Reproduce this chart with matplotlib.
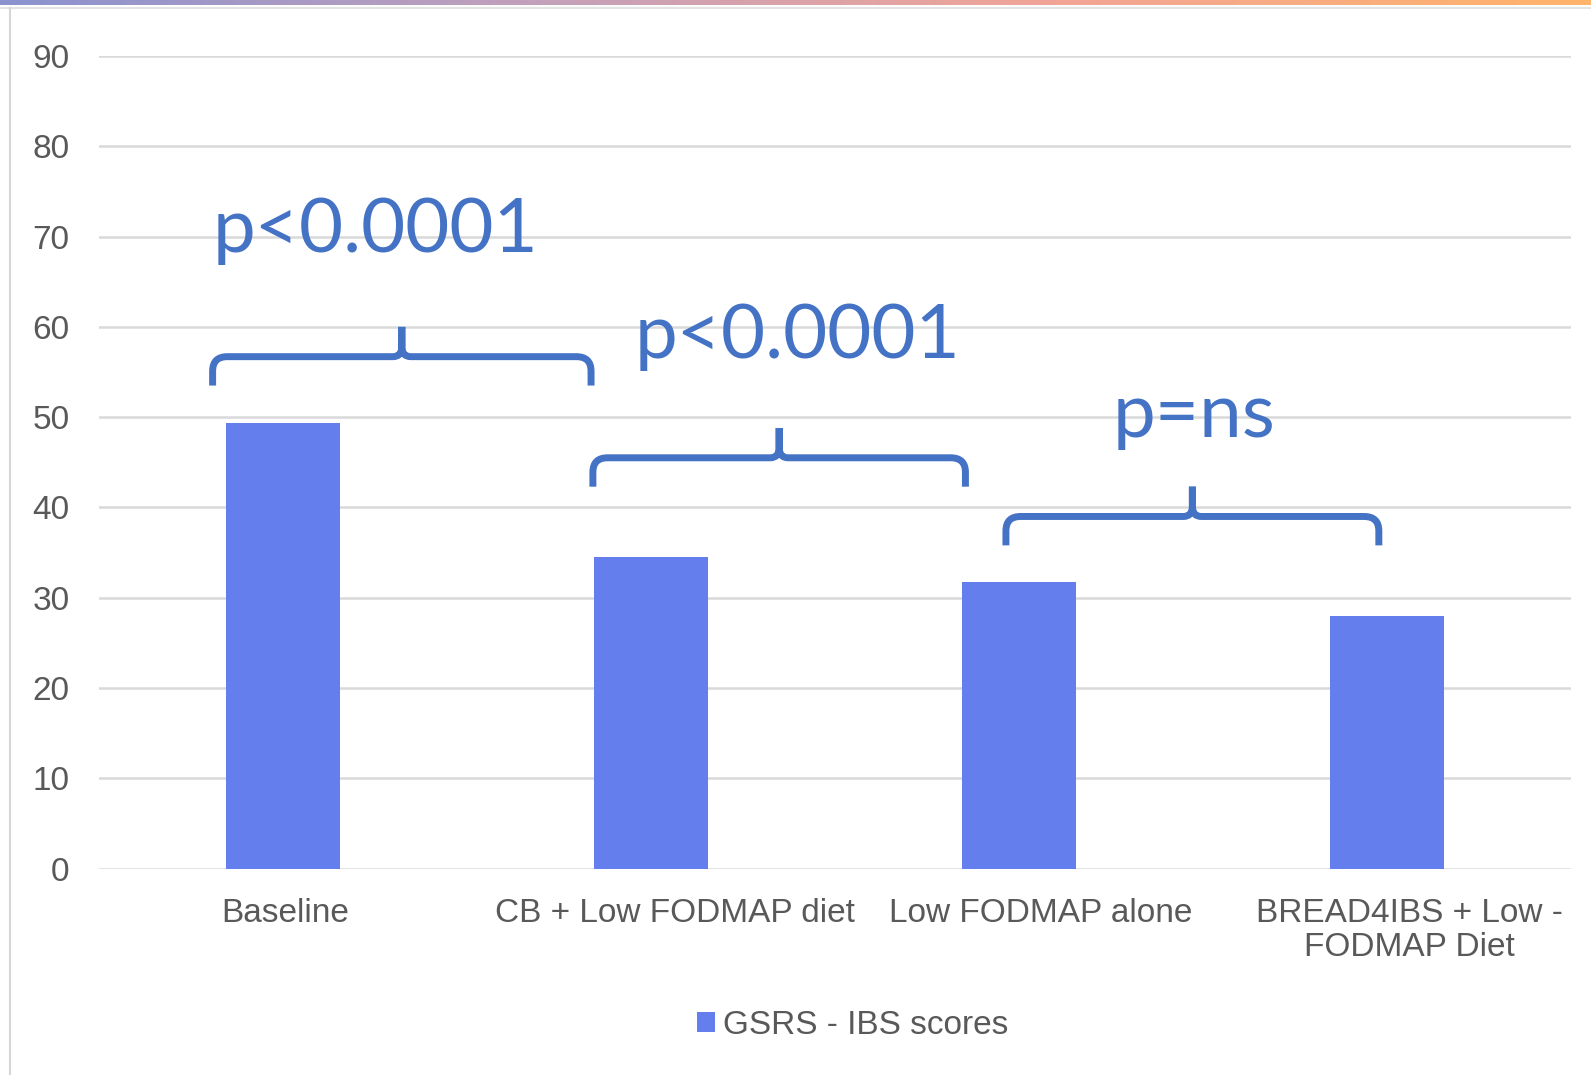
import numpy as np
import matplotlib
matplotlib.use("Agg")
import matplotlib.pyplot as plt
from matplotlib.path import Path
from matplotlib.patches import PathPatch, Rectangle
from matplotlib.colors import LinearSegmentedColormap
from matplotlib.transforms import ScaledTranslation

categories = ["Baseline", "CB + Low FODMAP diet", "Low FODMAP alone",
              "BREAD4IBS + Low -\nFODMAP Diet"]
scores = [49.4, 34.5, 31.7, 28.0]
series_name = "GSRS - IBS scores"
y_ticks = [0, 10, 20, 30, 40, 50, 60, 70, 80, 90]

# significance brackets: span in category units, level in score units
brace_left = [-0.19, 0.843, 1.965]
brace_right = [0.838, 1.855, 2.978]
brace_level = [56.7, 45.5, 39.0]
p_labels = ["p<0.0001", "p<0.0001", "p=ns"]
p_x = [0.252, 1.40, 2.475]
p_y = [68.3, 56.6, 47.8]

BAR = "#657EEE"
BLUE = "#4472C4"
GREY_TXT = "#595959"
GRID = "#D9D9D9"

plt.rcParams['font.family'] = ['Liberation Sans', 'DejaVu Sans']

fig = plt.figure(figsize=(15.91, 10.75), dpi=100)

# top gradient strip + frame lines from the screenshot
strip = fig.add_axes([0, 1 - 5 / 1075, 1, 5 / 1075])
cmap = LinearSegmentedColormap.from_list("strip", ["#8a93cf", "#c3a0bb", "#f2a596", "#ffb46a"])
strip.imshow(np.linspace(0, 1, 256)[None, :], aspect="auto", cmap=cmap)
strip.axis("off")
fig.add_artist(plt.Line2D([0, 1], [1 - 8 / 1075] * 2, color="#e4e4e4", lw=1.5))
fig.add_artist(plt.Line2D([10 / 1591] * 2, [0, 1 - 8 / 1075], color="#d6d6d6", lw=1.5))

ax = fig.add_axes([98.5 / 1591, 1 - 868.6 / 1075, (1571 - 98.5) / 1591, (868.6 - 56) / 1075])
x = np.arange(len(categories))
ax.bar(x, scores, width=0.31, color=BAR, zorder=3, label=series_name)

ax.set_xlim(-0.5, len(categories) - 0.5)
ax.set_ylim(0, 90)
ax.set_yticks(y_ticks)
ax.set_xticks(x)
ax.set_xticklabels(categories, linespacing=1.15)
ax.yaxis.grid(True, color=GRID, lw=1.8, zorder=0)
ax.set_axisbelow(True)
for s in ax.spines.values():
    s.set_visible(False)
ax.tick_params(axis="both", length=0, labelsize=24, labelcolor=GREY_TXT)
ax.tick_params(axis="y", pad=21)
ax.tick_params(axis="x", pad=21)

# the screenshot's category labels sit a little right of their bars
shift_px = [3, 24, 22, 22]
for lab, dx in zip(ax.get_xticklabels(), shift_px):
    lab.set_transform(lab.get_transform() + ScaledTranslation(dx / 100, 0, fig.dpi_scale_trans))


def brace(ax, left, right, level, drop=3.2, rise=3.3, rx=0.04, ry=1.6):
    c = (left + right) / 2
    verts = [(left, level - drop), (left, level - ry), (left, level), (left + rx, level),
             (c - rx * 0.6, level), (c, level), (c, level + ry * 0.7), (c, level + rise),
             (c, level + rise), (c, level + ry * 0.7), (c, level), (c + rx * 0.6, level),
             (right - rx, level), (right, level), (right, level - ry), (right, level - drop)]
    codes = [Path.MOVETO, Path.LINETO, Path.CURVE3, Path.CURVE3,
             Path.LINETO, Path.CURVE3, Path.CURVE3, Path.LINETO,
             Path.MOVETO, Path.LINETO, Path.CURVE3, Path.CURVE3,
             Path.LINETO, Path.CURVE3, Path.CURVE3, Path.LINETO]
    ax.add_patch(PathPatch(Path(verts, codes), fill=False, edgecolor=BLUE, lw=5,
                           capstyle="butt", joinstyle="round", zorder=4, clip_on=False))


for l, r, lv in zip(brace_left, brace_right, brace_level):
    brace(ax, l, r, lv)

for txt, tx, ty in zip(p_labels, p_x, p_y):
    ax.text(tx, ty, txt, ha="center", va="baseline", fontsize=55, color=BLUE,
            family=["Lato", "DejaVu Sans"], zorder=5)

handle = Rectangle((0, 0), 1, 1, facecolor=BAR, edgecolor="none")
fig.legend([handle], [series_name], loc="center", bbox_to_anchor=(0.536, 0.0465),
           frameon=False, fontsize=24, handlelength=0.55, handleheight=0.55,
           handletextpad=0.25, labelcolor=GREY_TXT)

fig.savefig("out.png", dpi=100, facecolor="white")
